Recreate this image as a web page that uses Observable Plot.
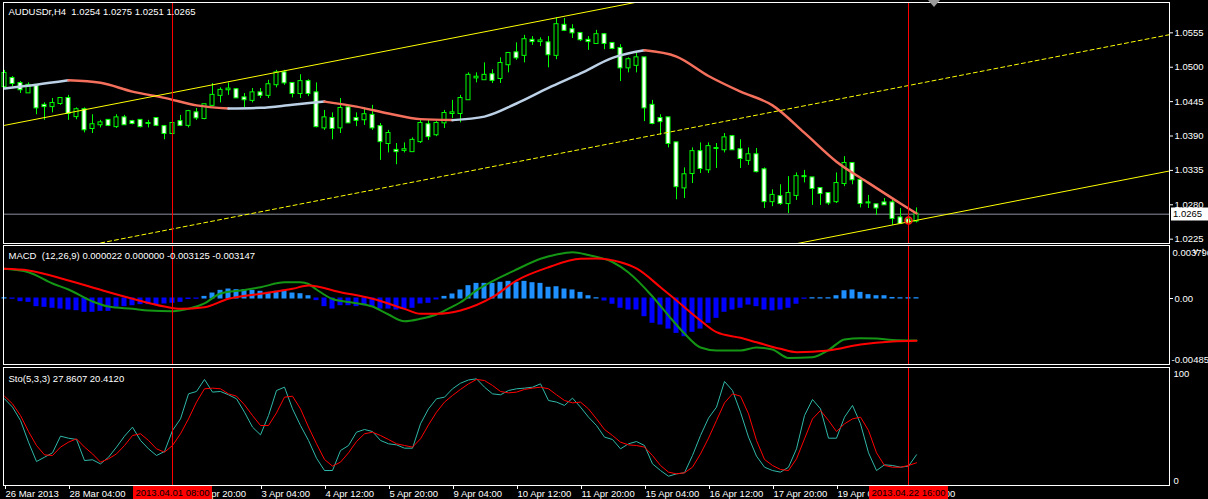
<!DOCTYPE html>
<html>
<head>
<meta charset="utf-8">
<script src="https://cdn.jsdelivr.net/npm/d3@7"></script>
<script src="https://cdn.jsdelivr.net/npm/@observablehq/plot@0.6"></script>
<style>
  html, body { margin: 0; padding: 0; background: #000; overflow: hidden; }
  #chart { position: relative; width: 1208px; height: 499px; background: #000; }
  #chart > * { position: absolute; left: 0; display: block; }
</style>
</head>
<body>
<div id="chart"></div>
<script>
// ---------------- DATA ----------------
const symbolHeader = "AUDUSDr,H4\u00a0\u00a01.0254 1.0275 1.0251 1.0265";
const macdHeader = "MACD\u00a0\u00a0(12,26,9) 0.000022 0.000000 -0.003125 -0.003147";
const stoHeader = "Sto(5,3,3) 27.8607 20.4120";

const barOpen = [1.0469,1.0482,1.0474,1.0459,1.0471,1.0439,1.0437,1.0442,1.0450,1.0421,
1.0432,1.0402,1.0408,1.0415,1.0405,1.0419,1.0413,1.0415,1.0410,1.0418,
1.0405,1.0394,1.0413,1.0407,1.0427,1.0418,1.0439,1.0455,1.0464,1.0464,
1.0451,1.0447,1.0459,1.0455,1.0472,1.0491,1.0474,1.0458,1.0477,1.0459,
1.0403,1.0418,1.0403,1.0435,1.0418,1.0416,1.0423,1.0405,1.0378,1.0367,
1.0367,1.0365,1.0381,1.0408,1.0392,1.0411,1.0426,1.0426,1.0448,1.0483,
1.0480,1.0488,1.0482,1.0504,1.0523,1.0519,1.0543,1.0541,1.0539,1.0519,
1.0567,1.0560,1.0554,1.0543,1.0538,1.0552,1.0538,1.0530,1.0499,1.0503,
1.0515,1.0439,1.0418,1.0419,1.0379,1.0307,1.0330,1.0365,1.0336,1.0370,
1.0368,1.0389,1.0368,1.0351,1.0360,1.0336,1.0285,1.0293,1.0282,1.0295,
1.0325,1.0323,1.0306,1.0298,1.0285,1.0314,1.0346,1.0319,1.0283,1.0280,
1.0283,1.0283,1.0259,1.0256,1.0254];
const barHigh = [1.0495,1.0485,1.0477,1.0475,1.0472,1.0443,1.0450,1.0451,1.0455,1.0435,
1.0435,1.0424,1.0415,1.0416,1.0424,1.0423,1.0415,1.0416,1.0415,1.0419,
1.0407,1.0411,1.0423,1.0431,1.0434,1.0440,1.0474,1.0467,1.0475,1.0466,
1.0458,1.0466,1.0466,1.0479,1.0495,1.0495,1.0475,1.0488,1.0480,1.0475,
1.0431,1.0427,1.0450,1.0437,1.0427,1.0435,1.0439,1.0410,1.0399,1.0378,
1.0379,1.0387,1.0418,1.0416,1.0413,1.0431,1.0447,1.0455,1.0491,1.0491,
1.0507,1.0496,1.0515,1.0522,1.0539,1.0551,1.0549,1.0547,1.0549,1.0579,
1.0578,1.0568,1.0555,1.0549,1.0559,1.0554,1.0539,1.0536,1.0515,1.0522,
1.0515,1.0447,1.0424,1.0419,1.0379,1.0339,1.0371,1.0379,1.0379,1.0378,
1.0394,1.0391,1.0384,1.0371,1.0370,1.0339,1.0304,1.0312,1.0325,1.0331,
1.0335,1.0323,1.0307,1.0299,1.0331,1.0357,1.0346,1.0320,1.0295,1.0280,
1.0290,1.0288,1.0274,1.0266,1.0275];
const barLow = [1.0466,1.0469,1.0458,1.0459,1.0424,1.0415,1.0427,1.0439,1.0415,1.0416,
1.0395,1.0394,1.0403,1.0405,1.0402,1.0407,1.0408,1.0403,1.0403,1.0405,
1.0384,1.0394,1.0405,1.0403,1.0415,1.0416,1.0437,1.0443,1.0455,1.0450,
1.0435,1.0443,1.0450,1.0450,1.0467,1.0471,1.0451,1.0450,1.0453,1.0403,
1.0399,1.0384,1.0394,1.0410,1.0405,1.0407,1.0399,1.0351,1.0363,1.0344,
1.0363,1.0365,1.0378,1.0383,1.0389,1.0402,1.0418,1.0411,1.0447,1.0475,
1.0479,1.0474,1.0474,1.0491,1.0511,1.0507,1.0535,1.0533,1.0499,1.0512,
1.0557,1.0546,1.0541,1.0527,1.0538,1.0528,1.0528,1.0477,1.0491,1.0491,
1.0413,1.0408,1.0391,1.0371,1.0288,1.0290,1.0314,1.0330,1.0330,1.0338,
1.0363,1.0367,1.0338,1.0343,1.0331,1.0274,1.0277,1.0279,1.0266,1.0287,
1.0315,1.0279,1.0279,1.0279,1.0282,1.0309,1.0312,1.0275,1.0274,1.0263,
1.0279,1.0247,1.0250,1.0248,1.0251];
const barClose = [1.0490,1.0474,1.0464,1.0471,1.0435,1.0437,1.0442,1.0450,1.0426,1.0432,
1.0400,1.0408,1.0411,1.0407,1.0419,1.0408,1.0410,1.0405,1.0410,1.0407,
1.0394,1.0410,1.0407,1.0429,1.0419,1.0440,1.0455,1.0463,1.0465,1.0451,
1.0448,1.0459,1.0455,1.0472,1.0491,1.0475,1.0458,1.0477,1.0458,1.0405,
1.0419,1.0402,1.0434,1.0411,1.0415,1.0424,1.0403,1.0381,1.0394,1.0365,
1.0368,1.0383,1.0410,1.0389,1.0410,1.0426,1.0427,1.0450,1.0487,1.0484,
1.0487,1.0479,1.0506,1.0522,1.0515,1.0544,1.0541,1.0542,1.0520,1.0568,
1.0559,1.0555,1.0544,1.0541,1.0552,1.0538,1.0530,1.0499,1.0512,1.0515,
1.0435,1.0410,1.0413,1.0378,1.0309,1.0328,1.0365,1.0338,1.0373,1.0370,
1.0387,1.0368,1.0354,1.0360,1.0333,1.0285,1.0295,1.0282,1.0298,1.0325,
1.0325,1.0306,1.0298,1.0283,1.0314,1.0346,1.0320,1.0282,1.0283,1.0275,
1.0280,1.0258,1.0250,1.0251,1.0265];

// moving average (read every 4 bars)
const maIndex = [0,4,8,12,16,20,24,28,32,36,40,44,48,52,56,60,64,68,72,76,80,84,88,92,96,100,104,108,112,114];
const maValue = [1.0466,1.0472,1.0479,1.0475,1.0461,1.0451,1.0439,1.0434,1.0435,1.0440,
1.0445,1.0437,1.0426,1.0417,1.04154,1.0421,1.0442,1.0467,1.0490,1.0515,
1.0527,1.0517,1.0486,1.0461,1.0439,1.0395,1.0349,1.0315,1.0282,1.0266];

// channel (bar index, price)
const channelUpper = [[0, 1.0407], [146, 1.0771]];
const channelMid = [[0, 1.0189], [146, 1.0553]];
const channelLower = [[0, 0.9971], [146, 1.0335]];
const bidPrice = 1.0265;
const priceTicks = [1.0555, 1.0500, 1.0445, 1.0390, 1.0335, 1.0280, 1.0225];
const alertMark = [[113, 1.0255]];

// MACD
const macdHist = [0.00002,-0.00002,-0.00020,-0.00025,-0.00057,-0.00062,-0.00069,-0.00075,-0.00082,-0.00087,
-0.00099,-0.00099,-0.00092,-0.00092,-0.00062,-0.00057,-0.00050,-0.00042,-0.00042,-0.00042,
-0.00037,-0.00032,-0.00025,-0.00004,-0.00002,0.00012,0.00037,0.00057,0.00067,0.00062,
0.00062,0.00057,0.00050,0.00042,0.00050,0.00057,0.00037,0.00032,0.00017,-0.00012,
-0.00057,-0.00075,-0.00050,-0.00050,-0.00057,-0.00050,-0.00062,-0.00075,-0.00075,-0.00082,
-0.00075,-0.00069,-0.00037,-0.00032,-0.00007,0.00012,0.00030,0.00060,0.00092,0.00109,
0.00109,0.00109,0.00117,0.00124,0.00117,0.00124,0.00114,0.00109,0.00080,0.00084,
0.00067,0.00060,0.00042,0.00017,0.00002,-0.00015,-0.00039,-0.00069,-0.00082,-0.00082,
-0.00132,-0.00181,-0.00194,-0.00224,-0.00256,-0.00281,-0.00248,-0.00224,-0.00181,-0.00144,
-0.00099,-0.00082,-0.00069,-0.00045,-0.00057,-0.00082,-0.00089,-0.00082,-0.00069,-0.00039,
-0.00002,0.00002,0.00002,0.00002,0.00017,0.00054,0.00060,0.00042,0.00025,0.00017,
0.00017,0.00004,0.00002,0.00002,0.000022];
const macdMainIdx = [0,3,6,8,11,13,16,18,21,23,25,27,30,32,35,37,38,39,41,43,46,48,50,52,54,56,57,59,62,64,67,69,71,73,76,78,81,83,85,87,89,92,94,96,98,101,103,105,107,109,111,114];
const macdMainVal = [0.00221,0.00196,0.00112,0.00067,-0.00022,-0.00060,-0.00077,-0.00089,-0.00095,-0.00077,
-0.00037,0.00037,0.00063,0.00084,0.00121,0.00121,0.00108,0.00067,-0.00004,-0.00026,
-0.00060,-0.00119,-0.00169,-0.00151,-0.00119,-0.00060,-0.00028,0.00060,0.00159,0.00216,
0.00296,0.00328,0.00345,0.00324,0.00272,0.00194,0.00015,-0.00127,-0.00261,-0.00365,
-0.00387,-0.00387,-0.00365,-0.00380,-0.00443,-0.00437,-0.00384,-0.00305,-0.00296,-0.00298,
-0.00309,-0.003125];
const macdSigIdx = [0,3,8,12,16,20,22,25,28,32,36,38,42,46,50,52,54,57,61,64,68,72,74,77,79,82,84,87,89,92,94,97,99,103,107,111,114];
const macdSigVal = [0.00221,0.00209,0.00134,0.00065,-0.00002,-0.00060,-0.00077,-0.00065,-0.00002,0.00035,
0.00072,0.00097,0.00047,-0.00002,-0.00077,-0.00114,-0.00114,-0.00089,0.00010,0.00134,
0.00233,0.00296,0.00298,0.00270,0.00224,0.00084,-0.00015,-0.00164,-0.00251,-0.00293,
-0.00326,-0.00375,-0.00400,-0.00387,-0.00343,-0.00320,-0.003147];
const macdScaleMax = 0.003796;
const macdScaleMin = -0.00485;

// Stochastic
const stoMain = [80.0,72.2,59.8,39.6,21.6,25.6,29.7,45.2,43.3,42.1,
22.5,23.2,19.4,25.6,35.0,45.2,53.6,41.2,33.4,27.2,
30.9,50.5,61.3,84.6,86.8,98.0,86.2,86.8,83.7,80.0,
67.5,53.6,46.4,64.4,87.7,90.8,70.6,55.1,41.2,24.7,
13.2,13.2,31.8,36.5,48.9,51.4,49.5,41.2,38.1,37.1,
34.0,34.0,56.7,70.6,80.0,81.5,89.3,94.5,97.5,98.6,
90.8,84.6,83.7,87.7,89.3,89.9,90.8,93.9,78.4,76.9,
73.8,80.6,72.2,62.9,55.1,44.3,42.1,33.4,38.1,40.2,
36.5,19.4,13.2,7.9,10.1,11.1,27.2,45.8,62.0,72.2,
96.1,87.7,67.5,44.3,26.6,16.3,13.2,11.7,16.3,33.4,
64.4,79.3,70.6,43.3,43.3,62.9,73.8,56.7,29.7,13.2,
18.5,17.9,16.3,17.3,27.86];
const stoSignal = [82.4,75.3,64.4,49.5,36.5,27.8,27.2,35.0,39.6,42.7,
35.0,28.7,21.0,24.1,28.7,36.5,45.8,47.4,41.2,33.4,
30.3,36.5,47.4,61.3,76.9,89.3,89.9,89.3,84.6,82.4,
74.4,64.4,55.1,55.1,66.9,81.5,82.4,70.6,53.6,38.1,
23.5,17.3,21.0,29.7,40.2,47.4,48.9,45.8,42.1,38.1,
36.5,35.0,42.7,55.7,67.5,76.9,83.1,88.7,93.9,98.0,
97.0,92.4,86.8,85.5,86.2,88.7,89.9,90.8,89.3,83.7,
78.4,76.2,76.9,70.6,61.3,51.4,45.8,39.6,37.1,36.5,
35.0,27.2,17.9,11.7,10.1,11.1,16.3,28.7,43.3,59.8,
76.2,84.6,82.4,66.0,41.2,23.5,17.9,14.2,13.2,24.1,
42.7,61.3,69.1,59.8,49.5,56.7,61.3,62.9,50.5,29.7,
17.9,16.3,16.3,17.9,20.41];

// time axis
const tickIdx = [0,8,16,24,32,40,48,56,64,72,80,88,96,104,112];
const tickLabels = ["26 Mar 2013","28 Mar 04:00","29 Mar 12:00","1 Apr 20:00","3 Apr 04:00","4 Apr 12:00","5 Apr 20:00","9 Apr 04:00","10 Apr 12:00","11 Apr 20:00","15 Apr 04:00","16 Apr 12:00","17 Apr 20:00","19 Apr 04:00","22 Apr 12:00"];
const cursorIdx = [21, 113];
const cursorLabels = ["2013.04.01 08:00", "2013.04.22 16:00"];

// ---------------- STYLE ----------------
const FONT = "'Liberation Sans', Arial, sans-serif";
const FS = "9.5px";
const W = 1208;
const X_DOMAIN = [-0.125, 145.625];
const LIME = "#00ff00";
const MA_UP = "#bcd0e6";
const MA_DOWN = "#f4705c";

const common = {
  width: W, marginLeft: 3, marginRight: 39,
  x: {domain: X_DOMAIN, axis: null},
  color: {type: "identity"},
  style: {background: "#000", color: "#fff", fontFamily: FONT, fontSize: FS}
};

const bars = barOpen.map((o, i) => ({i, o, h: barHigh[i], l: barLow[i], c: barClose[i]}));

// color-changing MA runs
const maRuns = [];
{
  let run = -1, prev = null;
  for (let k = 0; k < maIndex.length - 1; k++) {
    const color = maValue[k + 1] >= maValue[k] ? MA_UP : MA_DOWN;
    if (color !== prev) { run++; maRuns.push({i: maIndex[k], p: maValue[k], run, color}); prev = color; }
    maRuns.push({i: maIndex[k + 1], p: maValue[k + 1], run, color});
  }
}

const chart = document.getElementById("chart");
function place(el, top) {
  el.style.position = "absolute";
  el.style.top = top + "px";
  el.style.left = "0px";
  chart.appendChild(el);
  return el.tagName.toLowerCase() === "svg" ? el : el.querySelector("svg");
}

// ---------------- MAIN PANEL ----------------
const mainPlot = Plot.plot({
  ...common, height: 244, marginTop: 2, marginBottom: 1,
  y: {domain: [1.02181, 1.06035], axis: null},
  marks: [
    Plot.ruleY([bidPrice], {stroke: "#8a929e", strokeWidth: 1}),
    Plot.ruleX(bars, {x: "i", y1: "l", y2: "h", stroke: LIME, strokeWidth: 1}),
    Plot.rect(bars, {
      x1: d => d.i - 0.25, x2: d => d.i + 0.25,
      y1: d => Math.min(d.o, d.c), y2: d => Math.max(d.o, d.c),
      fill: d => d.c > d.o ? "#000" : "#fff", stroke: LIME, strokeWidth: 1,
      insetTop: -0.5, insetBottom: -0.5
    }),
    Plot.line(maRuns, {x: "i", y: "p", z: "run", stroke: "color", strokeWidth: 2.5, curve: "monotone-x"}),
    Plot.line(channelUpper, {x: d => d[0], y: d => d[1], stroke: "#ffff00", strokeWidth: 1, clip: true}),
    Plot.line(channelMid, {x: d => d[0], y: d => d[1], stroke: "#ffff00", strokeWidth: 1, strokeDasharray: "4,3", clip: true}),
    Plot.line(channelLower, {x: d => d[0], y: d => d[1], stroke: "#ffff00", strokeWidth: 1, clip: true}),
    Plot.dot(alertMark, {x: d => d[0], y: d => d[1], r: 3.5, stroke: "#ff2020", strokeWidth: 1.5, fill: "none"}),
    Plot.ruleX(cursorIdx, {stroke: "#ff0000", strokeWidth: 1}),
    Plot.frame({stroke: "#fff", strokeWidth: 1}),
    Plot.axisY({anchor: "right", ticks: priceTicks, tickFormat: d3.format(".4f"), tickSize: 3, tickPadding: 2, color: "#fff"}),
    Plot.text([symbolHeader], {frameAnchor: "top-left", text: d => d, dx: 5, dy: 9, lineAnchor: "middle", textAnchor: "start", fill: "#fff"})
  ]
});
const mainSvg = place(mainPlot, 0);
{
  const sy = mainPlot.scale("y"), sx = mainPlot.scale("x");
  const g = d3.select(mainSvg).append("g").attr("text-anchor", "start");
  const yb = Math.round(sy.apply(bidPrice));
  g.append("rect").attr("x", 1171).attr("y", yb - 6.5).attr("width", 37).attr("height", 13).attr("fill", "#fff");
  g.append("text").attr("x", 1173).attr("y", yb).attr("dy", "0.35em").attr("text-anchor", "start")
    .attr("fill", "#000").attr("font-family", FONT).attr("font-size", FS).text(d3.format(".4f")(bidPrice));
  const xt = sx.apply(barOpen.length - 1) + 18;
  g.append("polygon").attr("points", `${xt - 6},0 ${xt + 6},0 ${xt},7`).attr("fill", "#9a9a9a");
}

// ---------------- MACD PANEL ----------------
const hist = macdHist.map((v, i) => ({i, v}));
const macdPlot = Plot.plot({
  ...common, height: 122, marginTop: 1, marginBottom: 2,
  y: {domain: [-0.004917, 0.003949], axis: null},
  marks: [
    Plot.rect(hist, {
      x1: d => d.i - 0.3125, x2: d => d.i + 0.3125, y1: 0, y2: "v",
      fill: d => d.v >= 0 ? "#1e90ff" : "#0000ff", insetTop: -0.5, insetBottom: -0.5
    }),
    Plot.line(macdMainIdx.map((i, k) => [i, macdMainVal[k]]), {x: d => d[0], y: d => d[1], stroke: "#149614", strokeWidth: 2, curve: "monotone-x"}),
    Plot.line(macdSigIdx.map((i, k) => [i, macdSigVal[k]]), {x: d => d[0], y: d => d[1], stroke: "#ff0000", strokeWidth: 2, curve: "monotone-x"}),
    Plot.ruleX(cursorIdx, {stroke: "#ff0000", strokeWidth: 1}),
    Plot.frame({stroke: "#fff", strokeWidth: 1}),
    Plot.axisY({anchor: "right", ticks: [0], tickFormat: () => "0.00", tickSize: 3, tickPadding: 2, color: "#fff"}),
    Plot.text([macdScaleMax], {x: X_DOMAIN[1], y: d => d, text: d => String(d), dx: 3, dy: 5, textAnchor: "start", fill: "#fff"}),
    Plot.text([macdScaleMin], {x: X_DOMAIN[1], y: d => d, text: d => String(d), dx: 2, dy: -4, textAnchor: "start", fill: "#fff"}),
    Plot.text([macdHeader], {frameAnchor: "top-left", text: d => d, dx: 5, dy: 10.5, lineAnchor: "middle", textAnchor: "start", fill: "#fff"})
  ]
});
place(macdPlot, 244);

// ---------------- STOCHASTIC PANEL ----------------
const stoPlot = Plot.plot({
  ...common, height: 133, marginTop: 1, marginBottom: 14,
  y: {domain: [-0.74, 109.12], axis: null},
  marks: [
    Plot.line(stoMain, {x: (d, i) => i, y: d => d, stroke: "#2fb8a8", strokeWidth: 1}),
    Plot.line(stoSignal, {x: (d, i) => i, y: d => d, stroke: "#ff0000", strokeWidth: 1}),
    Plot.ruleX(cursorIdx, {stroke: "#ff0000", strokeWidth: 1}),
    Plot.frame({stroke: "#fff", strokeWidth: 1}),
    Plot.text([100], {x: X_DOMAIN[1], y: d => d, text: d => String(d), dx: 4, dy: -3, textAnchor: "start", fill: "#fff"}),
    Plot.text([0], {x: X_DOMAIN[1], y: d => d, text: d => String(d), dx: 4, dy: -4, textAnchor: "start", fill: "#fff"}),
    Plot.axisX({anchor: "bottom", ticks: tickIdx, tickFormat: d => tickLabels[tickIdx.indexOf(d)], tickSize: 4, tickPadding: 1, textAnchor: "start", dx: 1, color: "#fff"}),
    Plot.text([stoHeader], {frameAnchor: "top-left", text: d => d, dx: 5, dy: 11, lineAnchor: "middle", textAnchor: "start", fill: "#fff"})
  ]
});
const stoSvg = place(stoPlot, 366);
{
  const sx = stoPlot.scale("x");
  const g = d3.select(stoSvg).append("g");
  cursorIdx.forEach((idx, k) => {
    const cx = Math.round(sx.apply(idx));
    g.append("rect").attr("x", cx - 39).attr("y", 120).attr("width", 79).attr("height", 13).attr("fill", "#ff0000");
    g.append("text").attr("x", cx + 0.5).attr("y", 126.5).attr("dy", "0.35em").attr("text-anchor", "middle")
      .attr("fill", "#000").attr("font-family", FONT).attr("font-size", FS).text(cursorLabels[k]);
  });
}
</script>
</body>
</html>
